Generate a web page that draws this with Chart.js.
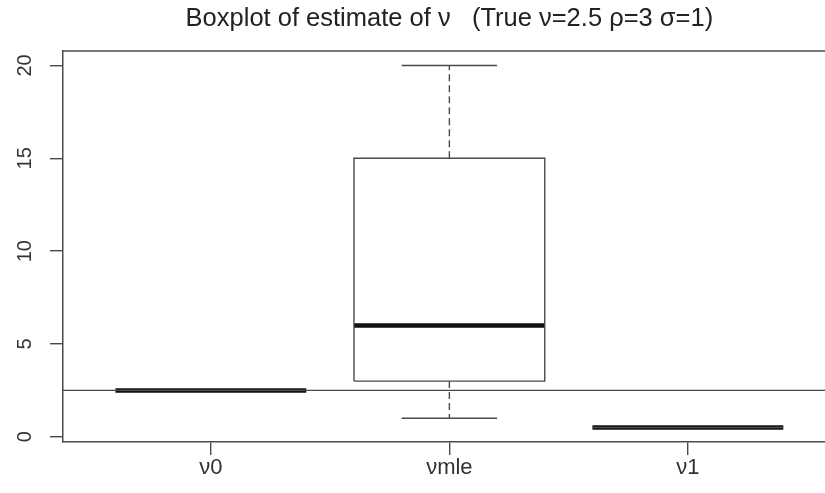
<!DOCTYPE html>
<html>
<head>
<meta charset="utf-8">
<script src="https://cdn.jsdelivr.net/npm/chart.js@4/dist/chart.umd.min.js"></script>
<style>
  html, body { margin: 0; padding: 0; background: #fff; overflow: hidden; }
  #wrap { width: 825px; height: 493px; position: relative; }
</style>
</head>
<body>
<div id="wrap"><canvas id="c"></canvas></div>
<script>
// Boxplot summaries for each estimator of nu
const categories = ['ν0', 'νmle', 'ν1'];
const lowerWhisker = [2.5, 1, 0.5];
const lowerQuartile = [2.5, 3, 0.5];
const medians = [2.5, 6, 0.5];
const upperQuartile = [2.5, 15, 0.5];
const upperWhisker = [2.5, 20, 0.5];
const trueNu = 2.5;
const yTicks = [0, 5, 10, 15, 20];

const titleText = 'Boxplot of estimate of ν   (True ν=2.5 ρ=3 σ=1)';

// x range (group positions 1..n) and y range with a small margin
const xMin = 0.38, xMax = 3.575;
const yMin = -0.28, yMax = 20.78;
const boxHalf = 0.4, capHalf = 0.2;

const GAP = { x: null, y: null };

// Build the line segments of the boxplot from the summaries
const boxPts = [], whiskerPts = [], capPts = [], medianPts = [];
categories.forEach((c, k) => {
  const x = k + 1;
  boxPts.push(
    { x: x - boxHalf, y: lowerQuartile[k] }, { x: x + boxHalf, y: lowerQuartile[k] },
    { x: x + boxHalf, y: upperQuartile[k] }, { x: x - boxHalf, y: upperQuartile[k] },
    { x: x - boxHalf, y: lowerQuartile[k] }, GAP);
  if (upperWhisker[k] > upperQuartile[k]) {
    whiskerPts.push({ x: x, y: upperQuartile[k] }, { x: x, y: upperWhisker[k] }, GAP);
    capPts.push({ x: x - capHalf, y: upperWhisker[k] }, { x: x + capHalf, y: upperWhisker[k] }, GAP);
  }
  if (lowerWhisker[k] < lowerQuartile[k]) {
    whiskerPts.push({ x: x, y: lowerQuartile[k] }, { x: x, y: lowerWhisker[k] }, GAP);
    capPts.push({ x: x - capHalf, y: lowerWhisker[k] }, { x: x + capHalf, y: lowerWhisker[k] }, GAP);
  }
  medianPts.push({ x: x - boxHalf, y: medians[k] }, { x: x + boxHalf, y: medians[k] }, GAP);
});

const lineDs = (data, color, width, dash) => ({
  data, borderColor: color, borderWidth: width, borderDash: dash || [],
  showLine: true, pointRadius: 0, pointHoverRadius: 0, spanGaps: false,
  fill: false, tension: 0, borderCapStyle: 'butt'
});

const ink = '#4a4a4a';
const fontFamily = '"Liberation Sans", Arial, sans-serif';

// Top frame line and a title centred over the group positions
const frameAndTitle = {
  id: 'frameAndTitle',
  afterDraw(chart) {
    const { ctx, chartArea: a } = chart;
    const xs = chart.scales.x;
    ctx.save();
    ctx.strokeStyle = ink;
    ctx.lineWidth = 1.5;
    ctx.beginPath();
    ctx.moveTo(a.left, a.top);
    ctx.lineTo(a.right, a.top);
    ctx.stroke();
    ctx.fillStyle = '#222';
    ctx.font = '25.5px ' + fontFamily;
    ctx.textAlign = 'center';
    ctx.textBaseline = 'middle';
    ctx.fillText(titleText, xs.getPixelForValue((1 + categories.length) / 2), 19);
    ctx.restore();
  }
};

new Chart(document.getElementById('c'), {
  type: 'scatter',
  data: {
    datasets: [
      lineDs([{ x: xMin, y: trueNu }, { x: xMax, y: trueNu }], ink, 1.4),
      lineDs(whiskerPts, ink, 1.4, [7, 4]),
      lineDs(capPts, ink, 1.4),
      lineDs(boxPts, ink, 1.4),
      lineDs(medianPts, '#111', 4.5)
    ]
  },
  options: {
    responsive: true,
    maintainAspectRatio: false,
    animation: false,
    events: [],
    layout: { padding: { top: 51, left: 0, right: 0, bottom: 0 } },
    plugins: {
      legend: { display: false },
      tooltip: { enabled: false },
      title: { display: false }
    },
    scales: {
      x: {
        type: 'linear',
        min: xMin, max: xMax,
        afterBuildTicks: s => { s.ticks = categories.map((c, k) => ({ value: k + 1 })); },
        afterFit: s => { s.height = 51; },
        ticks: {
          callback: v => categories[Math.round(v) - 1],
          color: '#333',
          font: { family: fontFamily, size: 22 },
          padding: 0, maxRotation: 0, minRotation: 0
        },
        grid: { drawOnChartArea: false, drawTicks: true, tickLength: 13, color: ink, lineWidth: 1.4 },
        border: { display: true, color: ink, width: 1.5 }
      },
      y: {
        type: 'linear',
        min: yMin, max: yMax,
        afterBuildTicks: s => { s.ticks = yTicks.map(v => ({ value: v })); },
        afterFit: s => { s.width = 63; },
        ticks: {
          color: '#333',
          font: { family: fontFamily, size: 20 },
          minRotation: 90, maxRotation: 90,
          crossAlign: 'center', padding: 13
        },
        grid: { drawOnChartArea: false, drawTicks: true, tickLength: 13, color: ink, lineWidth: 1.4 },
        border: { display: true, color: ink, width: 1.5 }
      }
    }
  },
  plugins: [frameAndTitle]
});
</script>
</body>
</html>
